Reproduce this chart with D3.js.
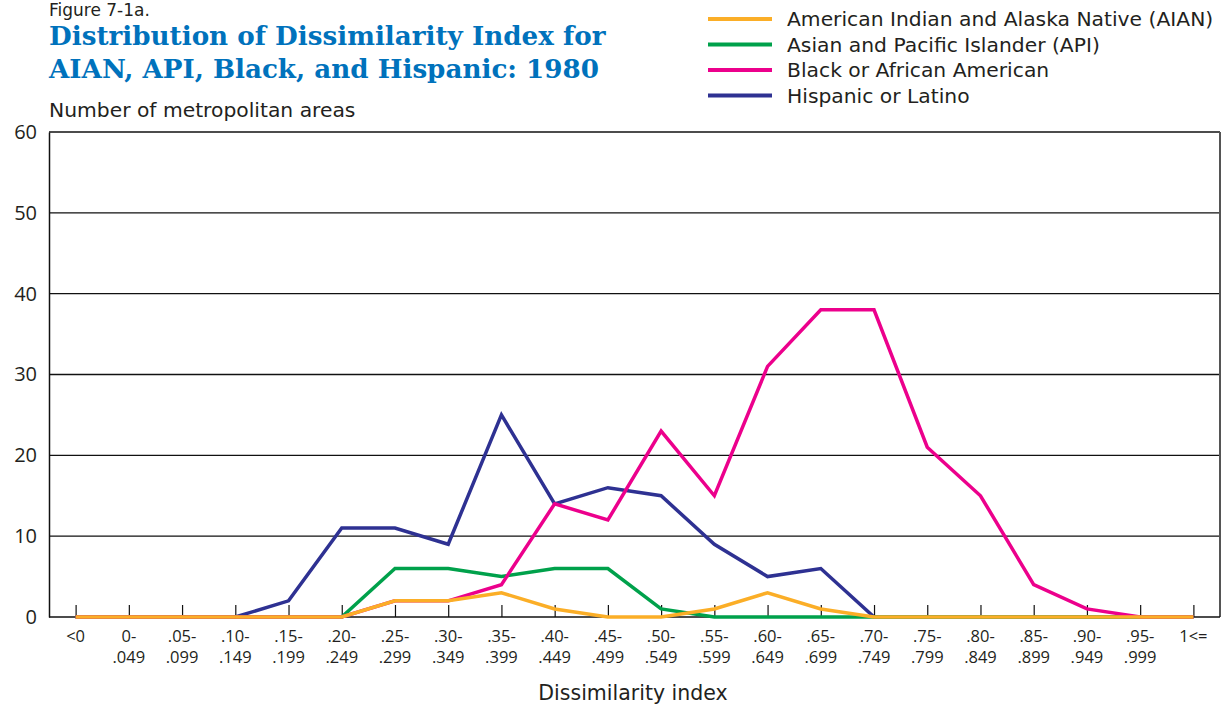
<!DOCTYPE html>
<html>
<head>
<meta charset="utf-8">
<script src="https://cdn.jsdelivr.net/npm/d3@7"></script>
<style>
  body { margin: 0; background: #fff; }
  svg { display: block; }
  text { font-family: "DejaVu Sans", sans-serif; fill: #231f20; }
</style>
</head>
<body>
<div id="chart"></div>
<script>
// categories on the x axis (two-line labels)
const categories = ["<0", "0-", ".05-", ".10-", ".15-", ".20-", ".25-", ".30-", ".35-", ".40-", ".45-",
  ".50-", ".55-", ".60-", ".65-", ".70-", ".75-", ".80-", ".85-", ".90-", ".95-", "1<="];
const categories2 = ["", ".049", ".099", ".149", ".199", ".249", ".299", ".349", ".399", ".449", ".499",
  ".549", ".599", ".649", ".699", ".749", ".799", ".849", ".899", ".949", ".999", ""];

const hispanic = [0, 0, 0, 0, 2, 11, 11, 9, 25, 14, 16, 15, 9, 5, 6, 0, 0, 0, 0, 0, 0, 0];
const api      = [0, 0, 0, 0, 0, 0, 6, 6, 5, 6, 6, 1, 0, 0, 0, 0, 0, 0, 0, 0, 0, 0];
const black    = [0, 0, 0, 0, 0, 0, 2, 2, 4, 14, 12, 23, 15, 31, 38, 38, 21, 15, 4, 1, 0, 0];
const aian     = [0, 0, 0, 0, 0, 0, 2, 2, 3, 1, 0, 0, 1, 3, 1, 0, 0, 0, 0, 0, 0, 0];

const yTicks = [0, 10, 20, 30, 40, 50, 60];

const legendNames = ["American Indian and Alaska Native (AIAN)", "Asian and Pacific Islander (API)",
  "Black or African American", "Hispanic or Latino"];
const legendColors = ["#fbae27", "#00a14b", "#ec008c", "#2e3192"];

const W = 1227, H = 706;
const margin = {top: 132, right: 7, bottom: 89, left: 49};
const w = W - margin.left - margin.right, h = H - margin.top - margin.bottom;
const sans = "'Open Sans', 'DejaVu Sans', sans-serif";

const svg = d3.select("#chart").append("svg")
  .attr("width", W).attr("height", H);

// titles
svg.append("text").attr("x", 49).attr("y", 16)
  .style("font-size", "17px").text("Figure 7-1a.");
const title = svg.append("text").attr("x", 49)
  .style("font-family", "'DejaVu Serif', serif").style("font-weight", "bold")
  .style("font-size", "26.2px").style("fill", "#0072bc");
title.append("tspan").attr("x", 49).attr("y", 45).text("Distribution of Dissimilarity Index for");
title.append("tspan").attr("x", 49).attr("y", 78).text("AIAN, API, Black, and Hispanic: 1980");

svg.append("text").attr("x", 49).attr("y", 117)
  .style("font-size", "20.3px").text("Number of metropolitan areas");

// legend
const leg = svg.append("g").selectAll("g").data(legendNames).join("g")
  .attr("transform", (d, i) => `translate(708,${19 + i * 25.5})`);
leg.append("line").attr("x1", 0).attr("x2", 64)
  .attr("stroke", (d, i) => legendColors[i]).attr("stroke-width", 4);
leg.append("text").attr("x", 79).attr("y", 7)
  .style("font-size", "20.3px").text(d => d);

const g = svg.append("g").attr("transform", `translate(${margin.left},${margin.top})`);

const x = d3.scalePoint().domain(d3.range(categories.length)).range([0, w]).padding(0.5);
const y = d3.scaleLinear().domain([0, 60]).range([h, 0]);

// gridlines
g.append("g").selectAll("line").data(yTicks.filter(d => d > 0)).join("line")
  .attr("x1", 0).attr("x2", w)
  .attr("y1", d => y(d)).attr("y2", d => y(d))
  .attr("stroke", "#111").attr("stroke-width", 1.3);

// right border
g.append("line").attr("x1", w).attr("x2", w).attr("y1", 0).attr("y2", h)
  .attr("stroke", "#555").attr("stroke-width", 2);

// y axis
const yAxis = g.append("g").call(d3.axisLeft(y).tickValues(yTicks).tickSize(0).tickPadding(12));
yAxis.select(".domain").attr("stroke", "#111").attr("stroke-width", 1.5);
yAxis.selectAll("text").style("font-size", "20px").attr("fill", "#231f20")
  .style("font-family", sans);

// x axis with inward ticks
const xAxis = g.append("g").attr("transform", `translate(0,${h})`)
  .call(d3.axisBottom(x).tickSize(-12).tickSizeOuter(0).tickFormat(""));
xAxis.select(".domain").attr("stroke", "#111").attr("stroke-width", 1.5)
  .attr("d", `M0,0H${w}`);
xAxis.selectAll(".tick line").attr("stroke", "#111").attr("stroke-width", 1.2);

const labels = g.append("g").selectAll("text").data(categories).join("text")
  .attr("x", (d, i) => x(i)).attr("y", h + 25)
  .attr("text-anchor", "middle").style("font-family", sans).style("font-size", "16.5px");
labels.append("tspan").attr("x", (d, i) => x(i)).text(d => d);
labels.append("tspan").attr("x", (d, i) => x(i)).attr("dy", 21).text((d, i) => categories2[i]);

svg.append("text").attr("x", 633).attr("y", 700).attr("text-anchor", "middle")
  .style("font-size", "20.5px").text("Dissimilarity index");

// series lines
const line = d3.line().x((d, i) => x(i)).y(d => y(d));
const series = [
  {vals: hispanic, color: legendColors[3]},
  {vals: api, color: legendColors[1]},
  {vals: black, color: legendColors[2]},
  {vals: aian, color: legendColors[0]}
];
g.append("g").selectAll("path").data(series).join("path")
  .attr("d", d => line(d.vals))
  .attr("fill", "none").attr("stroke", d => d.color)
  .attr("stroke-width", 3.5).attr("stroke-linejoin", "miter");
</script>
</body>
</html>
